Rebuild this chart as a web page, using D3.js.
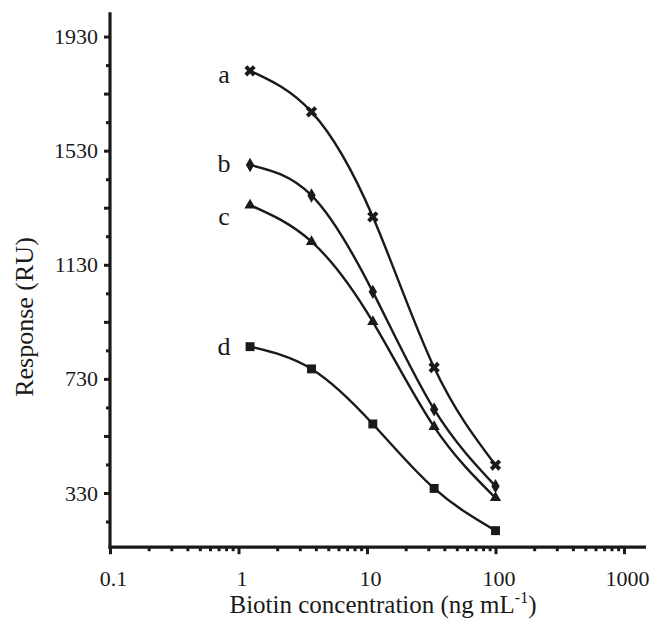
<!DOCTYPE html>
<html>
<head>
<meta charset="utf-8">
<script src="https://cdnjs.cloudflare.com/ajax/libs/d3/7.8.5/d3.min.js"></script>
<style>
  body { margin: 0; background: #fff; }
  text { font-family: "Liberation Serif", "Times New Roman", serif; fill: #1a1a1a; }
</style>
</head>
<body>
<div id="chart"></div>
<script>
let svgWidth = 669;
let svgHeight = 621;

// biotin concentrations (3-fold dilutions)
let conc = [1.23, 3.7, 11.1, 33.3, 100];

let seriesNames = ["a", "b", "c", "d"];
let seriesA = [1810, 1666, 1298, 770, 428];
let seriesB = [1480, 1373, 1035, 623, 354];
let seriesC = [1339, 1211, 930, 562, 313];
let seriesD = [843, 765, 572, 346, 198];

let yTickLabels = [330, 730, 1130, 1530, 1930];
let xTickLabels = [0.1, 1, 10, 100, 1000];

let allSeries = [seriesA, seriesB, seriesC, seriesD];
let symbols = [d3.symbolCross, d3.symbolDiamond, d3.symbolTriangle, d3.symbolSquare];
let symbolSizes = [80, 60, 55, 80];
let symbolRotate = [45, 0, 0, 0];
let labelDy = [12, 7, 20, 8];

let ink = "#1a1a1a";

let svg = d3.select("#chart")
  .append("svg")
  .attr("width", svgWidth)
  .attr("height", svgHeight);

// scales
let x = d3.scaleLog()
  .domain([0.1, 1000])
  .range([110, 624]);

let y = d3.scaleLinear()
  .domain([140, 2015])
  .range([547.2, 12.3]);

let xLeft = x(0.1);
let xRight = 646;
let yBottom = y(140);

// minor / major tick values
let xMinor = [];
[0.1, 1, 10, 100].forEach(function(dec) {
  for (let k = 2; k <= 9; k++) xMinor.push(dec * k);
});
let yMajor = d3.range(330, 1931, 200);
let yMinor = d3.range(230, 1931, 200);

// x axis ticks
svg.append("g")
  .attr("transform", `translate(0, ${yBottom})`)
  .call(d3.axisBottom(x).tickValues(xMinor).tickSize(4).tickFormat(""))
  .call(g => g.select(".domain").remove())
  .call(g => g.selectAll("line").attr("stroke", ink).attr("stroke-width", 3));

svg.append("g")
  .attr("transform", `translate(0, ${yBottom})`)
  .call(d3.axisBottom(x).tickValues(xTickLabels).tickSize(7).tickPadding(16)
    .tickFormat(d => d3.format("~g")(d)))
  .call(g => g.select(".domain").remove())
  .call(g => g.selectAll("line").attr("stroke", ink).attr("stroke-width", 3))
  .call(g => g.selectAll("text")
    .attr("font-size", 22)
    .attr("dx", 3)
    .style("font-family", "Liberation Serif"));

// y axis ticks
svg.append("g")
  .attr("transform", `translate(${xLeft}, 0)`)
  .call(d3.axisLeft(y).tickValues(yMinor).tickSize(4).tickFormat(""))
  .call(g => g.select(".domain").remove())
  .call(g => g.selectAll("line").attr("stroke", ink).attr("stroke-width", 3));

svg.append("g")
  .attr("transform", `translate(${xLeft}, 0)`)
  .call(d3.axisLeft(y).tickValues(yMajor).tickSize(6).tickPadding(6)
    .tickFormat(d => yTickLabels.includes(d) ? d : ""))
  .call(g => g.select(".domain").remove())
  .call(g => g.selectAll("line").attr("stroke", ink).attr("stroke-width", 3))
  .call(g => g.selectAll("text")
    .attr("font-size", 22)
    .style("font-family", "Liberation Serif"));

// axis lines
svg.append("line")
  .attr("x1", xLeft).attr("x2", xLeft)
  .attr("y1", y(2015)).attr("y2", yBottom + 1.5)
  .attr("stroke", ink).attr("stroke-width", 3.2);

svg.append("line")
  .attr("x1", xLeft - 1.5).attr("x2", xRight)
  .attr("y1", yBottom).attr("y2", yBottom)
  .attr("stroke", ink).attr("stroke-width", 3.2);

// curves
let line = d3.line()
  .x((d, i) => x(conc[i]))
  .y(d => y(d))
  .curve(d3.curveNatural);

allSeries.forEach(function(vals, s) {
  svg.append("path")
    .attr("d", line(vals))
    .attr("fill", "none")
    .attr("stroke", ink)
    .attr("stroke-width", 2.4);

  svg.selectAll(".pt" + s)
    .data(vals)
    .enter()
    .append("path")
    .attr("class", "pt" + s)
    .attr("transform", (d, i) => `translate(${x(conc[i])}, ${y(d)}) rotate(${symbolRotate[s]})`)
    .attr("d", d3.symbol().type(symbols[s]).size(symbolSizes[s]))
    .attr("fill", ink);

  svg.append("text")
    .attr("x", x(conc[0]) - 26)
    .attr("y", y(vals[0]) + labelDy[s])
    .attr("text-anchor", "middle")
    .attr("font-size", 26)
    .text(seriesNames[s]);
});

// axis titles
svg.append("text")
  .attr("transform", "translate(33, 317) rotate(-90)")
  .attr("text-anchor", "middle")
  .attr("font-size", 26)
  .text("Response (RU)");

let xt = svg.append("text")
  .attr("x", 383)
  .attr("y", 613)
  .attr("text-anchor", "middle")
  .attr("font-size", 25);
xt.append("tspan").text("Biotin concentration (ng mL");
xt.append("tspan").attr("font-size", 16).attr("dy", -10).text("-1");
xt.append("tspan").attr("dy", 10).text(")");
</script>
</body>
</html>
